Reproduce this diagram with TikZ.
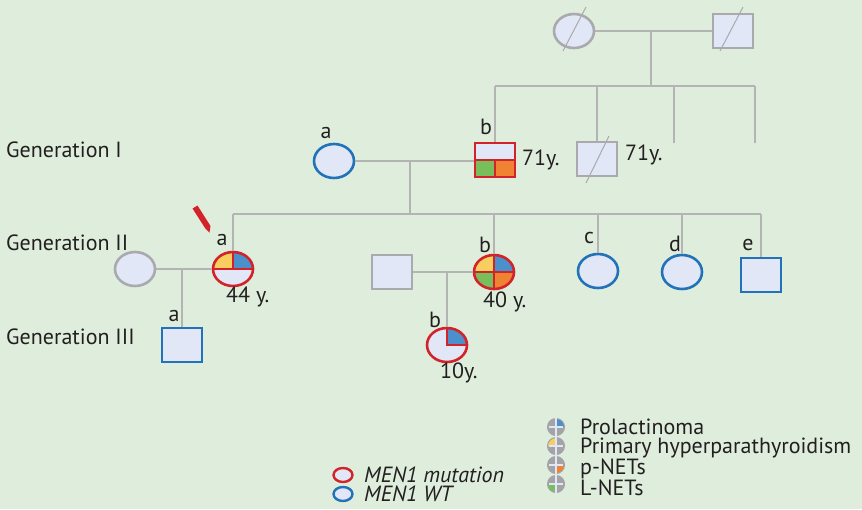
\documentclass[tikz,border=0pt]{standalone}
\usepackage{fontspec}
\setmainfont{PT Sans}
\usetikzlibrary{shapes.geometric}
\usetikzlibrary{calc}

\definecolor{bgc}{HTML}{DFEEDC}
\definecolor{lav}{HTML}{E1E7F6}
\definecolor{menred}{HTML}{D2232A}
\definecolor{wtblue}{HTML}{2172B8}
\definecolor{unkgray}{HTML}{A9A9AE}
\definecolor{kingray}{HTML}{B4B4B4}
\definecolor{ink}{HTML}{231F20}
\definecolor{qyel}{HTML}{F8CF5E}
\definecolor{qblue}{HTML}{4B8FCB}
\definecolor{qgreen}{HTML}{78BF5C}
\definecolor{qorange}{HTML}{EF8233}
\definecolor{icongray}{HTML}{A3A3A8}

\def\ppb{path picture bounding box}

\begin{document}
\begin{tikzpicture}[x=1pt,y=-1pt,
    pers/.style={line width=2.6pt,fill=lav,inner sep=0pt,minimum width=40pt,minimum height=34pt},
    female/.style={pers,ellipse},
    male/.style={pers,rectangle},
    mut/.style={draw=menred},
    wt/.style={draw=wtblue},
    unk/.style={draw=unkgray},
    kin/.style={draw=kingray,line width=1.4pt},
    slash/.style={draw=unkgray,line width=1pt},
    split/.style={draw=menred,line width=2.6pt},
    tag/.style={font=\fontsize{22}{22}\selectfont,text=ink,inner sep=0pt},
    keytext/.style={tag,font=\fontsize{22}{19}\selectfont,align=left,anchor=north west},
    quads/.style n args={4}{path picture={
      \fill[#1] (\ppb.center) rectangle (\ppb.north west);
      \fill[#2] (\ppb.center) rectangle (\ppb.north east);
      \fill[#3] (\ppb.center) rectangle (\ppb.south west);
      \fill[#4] (\ppb.center) rectangle (\ppb.south east);}},
    icon/.style={circle,minimum size=17pt,inner sep=0pt,fill=icongray,draw=icongray,line width=1pt},
    iconx/.style={draw=lav,line width=1.6pt,shorten >=1.6pt,shorten <=1.6pt},
    sign/.style={ellipse,minimum width=19pt,minimum height=14pt,inner sep=0pt,fill=lav,line width=2.4pt}
  ]

  \fill[bgc] (0,0) rectangle (862,509);
  \useasboundingbox (0,0) rectangle (862,509);

  % generation titles
  \node[tag,anchor=west] (gen1) at (6,150) {Generation I};
  \node[tag,anchor=west] (gen2) at (6,243) {Generation II};
  \node[tag,anchor=west] (gen3) at (6,337) {Generation III};

  % grandparents
  \node[female,unk] (P1) at (574,31) {};
  \node[male,unk] (P2) at (733,31) {};
  \draw[slash] ([shift={(-11,20)}]P1.center) -- ([shift={(12,-24)}]P1.center);
  \draw[slash] ([shift={(-13,20)}]P2.center) -- ([shift={(10,-24)}]P2.center);

  % generation I
  \node[female,wt] (Ia) at (334,161) {};
  \node[male,mut,quads={lav}{lav}{qgreen}{qorange}] (Ib) at (495,160) {};
  \draw[split] (Ib.west) -- (Ib.east);
  \draw[split] (Ib.center) -- (Ib.south);
  \node[male,unk] (Ic) at (597,159) {};
  \draw[slash] ([shift={(-11,24)}]Ic.center) -- ([shift={(12,-23)}]Ic.center);

  \node[tag] (Ia-l) at (326,133) {a};
  \node[tag] (Ib-l) at (486,127) {b};
  \node[tag,anchor=west] (Ib-age) at (522,160) {71y.};
  \node[tag,anchor=west] (Ic-age) at (625,155) {71y.};

  \coordinate (m0) at (651,31);
  \coordinate (s0) at (651,86);
  \coordinate (c3) at (674,143);
  \coordinate (c4) at (755,143);
  \draw[kin] (P1) -- (P2);
  \draw[kin] (m0) -- (s0);
  \draw[kin] (Ib.north |- s0) -- (s0 -| c4);
  \draw[kin] (Ib.north |- s0) -- (Ib.north);
  \draw[kin] (Ic.north |- s0) -- (Ic.north);
  \draw[kin] (c3 |- s0) -- (c3);
  \draw[kin] (c4 |- s0) -- (c4);

  % generation II
  \node[female,unk] (IIa-sp) at (135,269) {};
  \node[female,mut,quads={qyel}{qblue}{lav}{lav}] (IIa) at (233,269) {};
  \draw[split] (IIa.west) -- (IIa.east);
  \draw[split] (IIa.north) -- (IIa.center);
  \node[male,unk] (IIb-sp) at (392,272) {};
  \node[female,mut,quads={qyel}{qblue}{qgreen}{qorange}] (IIb) at (494,272) {};
  \draw[split] (IIb.west) -- (IIb.east);
  \draw[split] (IIb.north) -- (IIb.south);
  \node[female,wt] (IIc) at (598,271) {};
  \node[female,wt] (IId) at (682,272) {};
  \node[male,wt] (IIe) at (761,275) {};

  \node[tag] (IIa-l) at (222,240) {a};
  \node[tag,anchor=west] (IIa-age) at (226,297) {44 y.};
  \node[tag] (IIb-l) at (485,245) {b};
  \node[tag,anchor=west] (IIb-age) at (483,302) {40 y.};
  \node[tag] (IIc-l) at (589,238) {c};
  \node[tag] (IId-l) at (675,244) {d};
  \node[tag] (IIe-l) at (748,245) {e};

  % proband pointer
  \fill[menred] (192.5,208.5) -- (197.5,205.5) -- (210.5,226) -- (209.5,232.5) -- (205,228) -- cycle;

  \coordinate (m1) at (410,161);
  \coordinate (s1) at (410,214);
  \draw[kin] (Ia) -- (Ia -| Ib.west);
  \draw[kin] (m1) -- (s1);
  \draw[kin] (IIa.north |- s1) -- (IIe.north |- s1);
  \foreach \kid in {IIa,IIb,IIc,IId,IIe}
    \draw[kin] (\kid.north |- s1) -- (\kid.north);

  % generation III
  \node[male,wt] (IIIa) at (182,345) {};
  \node[female,mut,quads={lav}{qblue}{lav}{lav}] (IIIb) at (447,345) {};
  \draw[split] (IIIb.north) -- (IIIb.center) -- (IIIb.east);

  \node[tag] (IIIa-l) at (174,316) {a};
  \node[tag] (IIIb-l) at (435,320) {b};
  \node[tag,anchor=west] (IIIb-age) at (440,373) {10y.};

  \draw[kin] (IIa-sp) -- (IIa);
  \draw[kin] (IIIa.north |- IIa) -- (IIIa.north);
  \draw[kin] (IIb-sp) -- (IIb);
  \draw[kin] (IIIb.north |- IIb) -- (IIIb.north);

  % legend
  \node[sign,draw=menred] (L-mut) at (343,475) {};
  \node[sign,draw=wtblue] (L-wt) at (343,494) {};
  \node[keytext,font=\fontsize{22}{19}\selectfont\itshape] (L-t) at (364,467)
    {MEN1 mutation\\MEN1 WT};

  \node[icon,quads={icongray}{qblue}{icongray}{icongray}] (K1) at (556,427) {};
  \node[icon,quads={qyel}{icongray}{icongray}{icongray}] (K2) at (556,446) {};
  \node[icon,quads={icongray}{icongray}{icongray}{qorange}] (K3) at (556,465) {};
  \node[icon,quads={icongray}{icongray}{qgreen}{icongray}] (K4) at (556,484) {};
  \foreach \k in {K1,K2,K3,K4}
    \draw[iconx] (\k.north) -- (\k.south) (\k.west) -- (\k.east);

  \node[keytext] (K-t) at (580,419)
    {Prolactinoma\\Primary hyperparathyroidism\\p-NETs\\L-NETs};

\end{tikzpicture}
\end{document}
